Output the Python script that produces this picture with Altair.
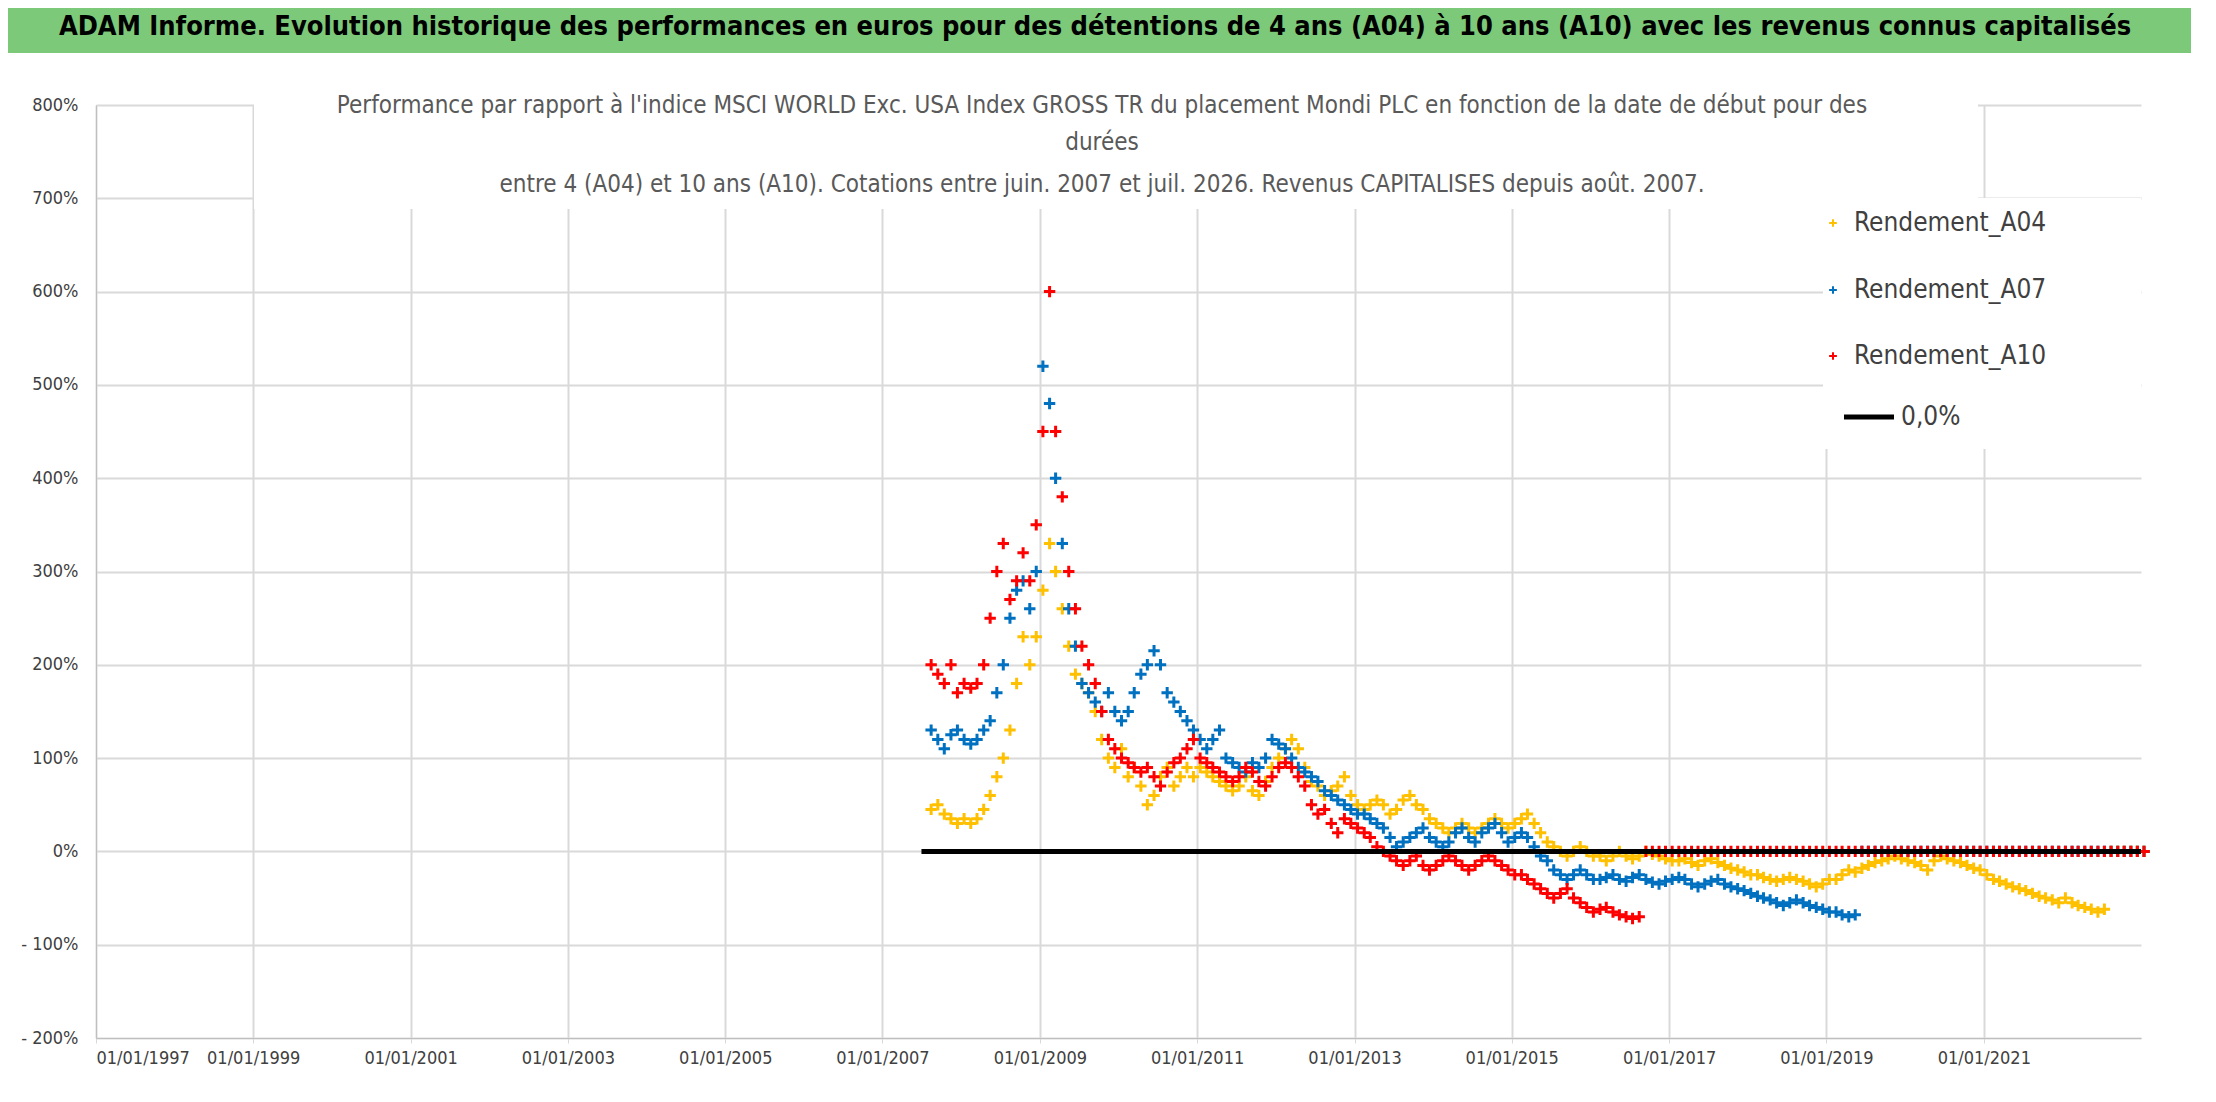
import altair as alt
import pandas as pd

# monthly readings, first value = July 2007 (in %)
a04 = [45, 50, 40, 35, 30, 35,
       30, 35, 45, 60, 80, 100, 130, 180, 230, 200, 230, 280,
       330, 300, 260, 220, 190, 180, 170, 150, 120, 100, 90, 110,
       80, 90, 70, 50, 60, 80, 90, 70, 80, 90, 80, 90,
       85, 80, 75, 70, 65, 70, 80, 65, 60, 75, 90, 100,
       110, 120, 110, 90, 75, 70, 60, 65, 70, 80, 60, 50,
       45, 50, 55, 50, 40, 45, 55, 60, 50, 45, 35, 30,
       25, 20, 25, 30, 25, 20, 25, 30, 35, 30, 25, 30,
       35, 40, 30, 20, 10, 5, 0, -5, 0, 5, 0, -5,
       -5, -10, -5, 0, -5, -8, -5, 0, -3, -5, -8, -10,
       -10, -8, -12, -15, -10, -8, -12, -15, -18, -20, -22, -25,
       -25, -28, -30, -32, -30, -28, -30, -32, -35, -38, -35, -30,
       -30, -25, -20, -22, -18, -15, -12, -10, -8, -5, -8, -10,
       -12, -15, -20, -10, -5, -8, -10, -12, -15, -18, -20, -25,
       -30, -32, -35, -38, -40, -42, -45, -48, -50, -52, -55, -50,
       -55, -58, -60, -62, -65, -62]
a07 = [130, 120, 110, 125, 130, 120,
       115, 120, 130, 140, 170, 200, 250, 280, 290, 260, 300, 520,
       480, 400, 330, 260, 220, 180, 170, 160, 150, 170, 150, 140,
       150, 170, 190, 200, 215, 200, 170, 160, 150, 140, 130, 120,
       110, 120, 130, 100, 95, 90, 85, 95, 90, 100, 120, 115,
       110, 100, 90, 85, 80, 75, 65, 60, 55, 50, 45, 40,
       40, 35, 30, 25, 15, 5, 10, 15, 20, 25, 15, 10,
       5, 10, 20, 25, 15, 10, 20, 25, 30, 20, 10, 15,
       20, 15, 5, -5, -10, -20, -25, -30, -25, -20, -25, -30,
       -30, -28, -25, -30, -32, -28, -25, -30, -33, -35, -32, -30,
       -28, -30, -35, -38, -35, -32, -30, -35, -38, -40, -42, -45,
       -48, -50, -52, -55, -58, -55, -52, -55, -58, -60, -62, -65,
       -65, -68, -70, -68]
a10 = [200, 190, 180, 200, 170, 180,
       175, 180, 200, 250, 300, 330, 270, 290, 320, 290, 350, 450,
       600, 450, 380, 300, 260, 220, 200, 180, 150, 120, 110, 100,
       95, 90, 85, 90, 80, 70, 85, 95, 100, 110, 120, 100,
       95, 90, 85, 80, 75, 80, 90, 85, 75, 70, 80, 90,
       95, 90, 80, 70, 50, 40, 45, 30, 20, 35, 30, 25,
       20, 15, 5, 0, -5, -10, -15, -10, -5, -15, -20, -15,
       -10, -5, -10, -15, -20, -15, -10, -5, -10, -15, -20, -25,
       -25, -30, -35, -40, -45, -50, -45, -40, -50, -55, -60, -65,
       -62, -60, -65, -68, -70, -72, -70]
n_months = 186  # July 2007 .. Dec 2022
zero_line = ["2007-07-01", "2023-01-01"]
x_ticks = [f"{y}-01-01" for y in range(1997, 2023, 2)]
series_names = ["Rendement_A04", "Rendement_A07", "Rendement_A10"]
colors = ["#FFC000", "#0070C0", "#FF0000"]

dates = pd.date_range("2007-07-15", periods=n_months, freq="MS") + pd.Timedelta(days=14)
rows = []
for name, vals in zip(series_names, [a04, a07, a10]):
    full = vals + [0] * (n_months - len(vals))
    for d, v in zip(dates, full):
        rows.append({"date": d, "value": v, "serie": name})
df = pd.DataFrame(rows)

FONT = "DejaVu Sans Condensed"
PLUS = "M-1,0L1,0M0,-1L0,1"
X_SCALE = alt.Scale(domain=["1997-01-01", "2023-01-01"])
X_AXIS = alt.Axis(values=x_ticks, format="%d/%m/%Y", title=None,
                  labelFontSize=18, labelColor="#404040", grid=True,
                  gridColor="#d9d9d9", gridWidth=2, tickColor="#d9d9d9",
                  domainColor="#bfbfbf", labelFont=FONT, labelPadding=6)

y_enc = alt.Y("value:Q", scale=alt.Scale(domain=[-200, 800], nice=False),
              axis=alt.Axis(values=list(range(-200, 801, 100)), title=None, grid=True,
                            labelExpr="datum.value < 0 ? '- ' + (-datum.value) + '%' : datum.value + '%'",
                            labelFontSize=18, labelColor="#404040", labelFont=FONT,
                            gridColor="#d9d9d9", gridWidth=2, ticks=False,
                            domainColor="#bfbfbf", labelPadding=18))

pts = alt.Chart(df).mark_point(shape=PLUS, size=130, strokeWidth=3, filled=False, opacity=1).encode(
    x=alt.X("date:T", scale=X_SCALE, axis=X_AXIS), y=y_enc,
    color=alt.Color("serie:N", scale=alt.Scale(domain=series_names, range=colors), legend=None),
    order=alt.Order("serie:N"))

rule = alt.Chart(pd.DataFrame({"start": [zero_line[0]], "end": [zero_line[1]]})).mark_rule(
    color="black", strokeWidth=5).encode(
    x=alt.X("start:T", scale=X_SCALE, axis=X_AXIS),
    x2="end:T", y=alt.datum(0))

one = alt.Chart(pd.DataFrame({"a": [0]}))
title_bar = one.mark_rect(color="#7DC97A").encode(
    x=alt.value(-96), x2=alt.value(2120), y=alt.value(-105), y2=alt.value(-52))
title_txt = one.mark_text(fontSize=27, fontWeight="bold", font=FONT, color="black").encode(
    x=alt.value(999), y=alt.value(-78),
    text=alt.value("ADAM Informe. Evolution historique des performances en euros pour des détentions de 4 ans (A04) à 10 ans (A10) avec les revenus connus capitalisés"))
sub_box = one.mark_rect(color="white").encode(
    x=alt.value(158), x2=alt.value(1882), y=alt.value(-17), y2=alt.value(104))
sub_lines = [
    ("Performance par rapport à l'indice MSCI WORLD Exc. USA Index GROSS TR  du placement Mondi PLC en fonction de la date de début pour des", 1),
    ("durées", 38),
    ("entre 4 (A04) et 10 ans (A10). Cotations entre juin. 2007 et juil. 2026. Revenus CAPITALISES depuis août. 2007.", 80),
]
subs = [one.mark_text(fontSize=24, font=FONT, color="#595959").encode(
    x=alt.value(1006), y=alt.value(yy), text=alt.value(t)) for t, yy in sub_lines]

leg_box = one.mark_rect(color="white").encode(
    x=alt.value(1727), x2=alt.value(2045), y=alt.value(93), y2=alt.value(344))
legend = [leg_box]
for name, c, yy in zip(series_names, colors, [118, 185, 251]):
    legend.append(one.mark_point(shape=PLUS, size=60, strokeWidth=2, color=c, opacity=1).encode(
        x=alt.value(1737), y=alt.value(yy)))
    legend.append(one.mark_text(fontSize=26, font=FONT, color="#404040", align="left").encode(
        x=alt.value(1758), y=alt.value(yy), text=alt.value(name)))
legend.append(one.mark_rule(color="black", strokeWidth=5).encode(
    x=alt.value(1748), x2=alt.value(1798), y=alt.value(312)))
legend.append(one.mark_text(fontSize=26, font=FONT, color="#404040", align="left").encode(
    x=alt.value(1805), y=alt.value(312), text=alt.value("0,0%")))

chart = alt.layer(title_bar, title_txt, pts, rule, sub_box, *subs, *legend).properties(
    width=2045, height=933,
    autosize=alt.AutoSizeParams(type="none"),
    padding={"left": 88, "top": 97, "right": 50, "bottom": 50},
).configure_view(stroke=None)

chart.save("out.html", embed_options={"renderer": "svg", "actions": False})
